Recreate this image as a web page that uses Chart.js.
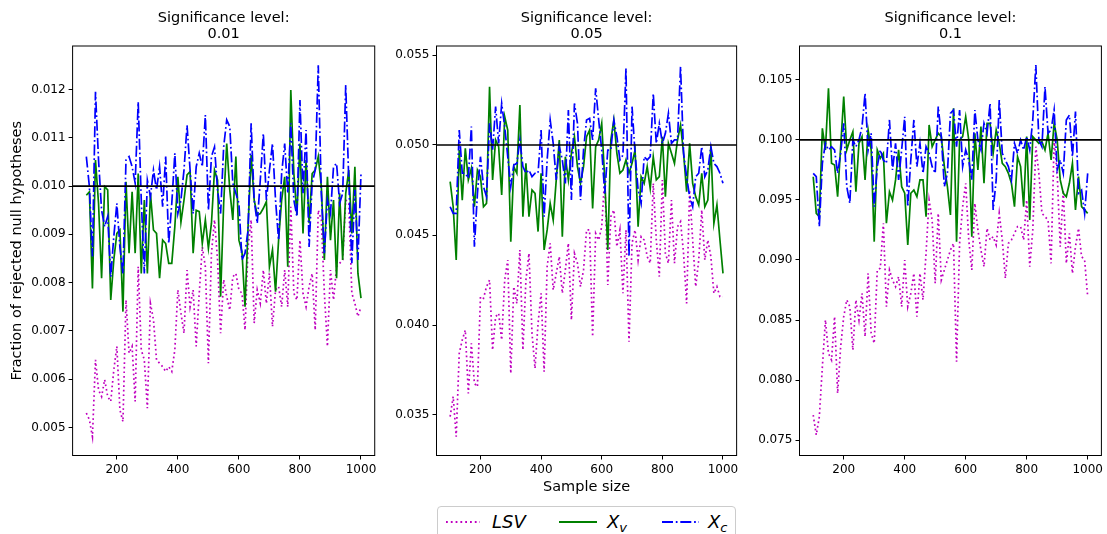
<!DOCTYPE html>
<html>
<head>
<meta charset="utf-8">
<script src="https://cdn.jsdelivr.net/npm/chart.js@4.4.0/dist/chart.umd.min.js"></script>
<style>
  body { margin: 0; background: #fff; }
  #wrap { position: relative; width: 1107px; height: 534px; overflow: hidden; font-family: 'DejaVu Sans', sans-serif; }
  canvas { position: absolute; top: 0; }
  #legend { position: absolute; left: 437px; top: 506px; width: 299px; height: 40px; box-sizing: border-box;
            border: 1px solid #cccccc; border-radius: 4px; background: #fff; }
  #legend svg { position: absolute; top: 10px; }
  #legend .lbl { position: absolute; top: 4px; line-height: 22px; font-size: 18px; font-style: italic; color: #000; white-space: nowrap; }
  #legend .lbl span { font-size: 13px; position: relative; top: 3.5px; }
</style>
</head>
<body>
<div id="wrap">
  <canvas id="c1" width="380" height="534" style="left:0px"></canvas>
  <canvas id="c2" width="352" height="534" style="left:390px"></canvas>
  <canvas id="c3" width="355" height="534" style="left:752px"></canvas>
  <div id="legend">
    <svg style="left:7px" width="36" height="10"><line x1="1" y1="5" x2="35" y2="5" stroke="#bf00bf" stroke-width="1.8" stroke-dasharray="1.8,3"/></svg>
    <div class="lbl" style="left:54px">LSV</div>
    <svg style="left:121px" width="38" height="10"><line x1="0" y1="5" x2="38" y2="5" stroke="#008000" stroke-width="1.8"/></svg>
    <div class="lbl" style="left:169px">X<span>v</span></div>
    <svg style="left:224px" width="37" height="10"><line x1="0" y1="5" x2="37" y2="5" stroke="#0000ff" stroke-width="1.8" stroke-dasharray="11,2.8,1.7,2.8"/></svg>
    <div class="lbl" style="left:270px">X<span>c</span></div>
  </div>
</div>
<script>
// sample sizes (x values), step 10
const sampleSizes = [100, 110, 120, 130, 140, 150, 160, 170, 180, 190,
  200, 210, 220, 230, 240, 250, 260, 270, 280, 290,
  300, 310, 320, 330, 340, 350, 360, 370, 380, 390,
  400, 410, 420, 430, 440, 450, 460, 470, 480, 490,
  500, 510, 520, 530, 540, 550, 560, 570, 580, 590,
  600, 610, 620, 630, 640, 650, 660, 670, 680, 690,
  700, 710, 720, 730, 740, 750, 760, 770, 780, 790,
  800, 810, 820, 830, 840, 850, 860, 870, 880, 890,
  900, 910, 920, 930, 940, 950, 960, 970, 980, 990, 1000];

const alphas = [0.01, 0.05, 0.1];
const xTicks = [200, 400, 600, 800, 1000];
const yTicks01 = [0.005, 0.006, 0.007, 0.008, 0.009, 0.010, 0.011, 0.012];
const yTicks05 = [0.035, 0.040, 0.045, 0.050, 0.055];
const yTicks10 = [0.075, 0.080, 0.085, 0.090, 0.095, 0.100, 0.105];

// significance level 0.01
const lsv01 = [0.0053, 0.00516, 0.00481, 0.0064, 0.00578, 0.00564, 0.00599, 0.00564, 0.00554, 0.00619,
  0.00668, 0.00537, 0.00512, 0.00764, 0.00654, 0.00668, 0.00554, 0.00833, 0.00661, 0.0064,
  0.0054, 0.00757, 0.00723, 0.0064, 0.00633, 0.00626, 0.00616, 0.00626, 0.00616, 0.00661,
  0.00785, 0.00737, 0.00695, 0.00826, 0.0075, 0.00785, 0.00668, 0.00778, 0.00874, 0.00833,
  0.00633, 0.00861, 0.0093, 0.00847, 0.00695, 0.00806, 0.00771, 0.00743, 0.00812, 0.00819,
  0.00785, 0.00778, 0.00702, 0.00874, 0.0093, 0.00716, 0.00785, 0.00757, 0.00826, 0.00757,
  0.00819, 0.00709, 0.00785, 0.00792, 0.0075, 0.00826, 0.0075, 0.00957, 0.00778, 0.00764,
  0.00888, 0.00778, 0.0075, 0.00792, 0.00819, 0.00702, 0.0095, 0.0093, 0.00778, 0.00668,
  0.00826, 0.00764, 0.00833, 0.0084, 0.00847, 0.00971, 0.00964, 0.00778, 0.00757, 0.0073, 0.0075];
const xv01 = [0.00981, 0.00988, 0.00788, 0.01054, 0.00964, 0.00809, 0.00999, 0.00992, 0.00764, 0.00847,
  0.00902, 0.00909, 0.0074, 0.01009, 0.00861, 0.00988, 0.00861, 0.01026, 0.00819, 0.00971,
  0.00819, 0.00985, 0.00909, 0.00902, 0.00809, 0.00888, 0.00881, 0.0084, 0.0084, 0.00916,
  0.01019, 0.00925, 0.00971, 0.01023, 0.0103, 0.00861, 0.0095, 0.00947, 0.00881, 0.0093,
  0.00871, 0.00923, 0.01033, 0.01012, 0.00771, 0.00964, 0.01088, 0.00992, 0.0093, 0.01061,
  0.00888, 0.00864, 0.0075, 0.00916, 0.01064, 0.00971, 0.0094, 0.00943, 0.00954, 0.00968,
  0.00833, 0.00868, 0.00781, 0.00888, 0.00971, 0.01019, 0.00833, 0.01199, 0.01026, 0.0094,
  0.01088, 0.00902, 0.01054, 0.00923, 0.01026, 0.01033, 0.01061, 0.00999, 0.00847, 0.01019,
  0.00888, 0.00971, 0.00809, 0.00985, 0.00847, 0.00985, 0.01033, 0.00902, 0.0104, 0.00819, 0.00768];
const xc01 = [0.01061, 0.00999, 0.00854, 0.01195, 0.01054, 0.0095, 0.00916, 0.00937, 0.00812, 0.00895,
  0.00964, 0.00874, 0.00819, 0.01054, 0.01061, 0.0104, 0.01006, 0.01174, 0.00971, 0.00819,
  0.01012, 0.00978, 0.01033, 0.00992, 0.0104, 0.00957, 0.01061, 0.00881, 0.00964, 0.01068,
  0.00943, 0.00971, 0.01033, 0.01126, 0.01033, 0.00943, 0.0104, 0.01068, 0.0104, 0.01147,
  0.0095, 0.01061, 0.01081, 0.00992, 0.00943, 0.01081, 0.01137, 0.01123, 0.01006, 0.00985,
  0.00964, 0.00847, 0.00861, 0.00909, 0.0113, 0.00971, 0.00923, 0.01012, 0.01109, 0.00971,
  0.01033, 0.01088, 0.00971, 0.00888, 0.01026, 0.01088, 0.00985, 0.0113, 0.00971, 0.00937,
  0.01178, 0.00985, 0.01116, 0.00874, 0.01006, 0.01033, 0.0125, 0.00985, 0.00861, 0.00971,
  0.00943, 0.0104, 0.01047, 0.00964, 0.00985, 0.01209, 0.01012, 0.0084, 0.00992, 0.00847, 0.01026];

// significance level 0.05
const lsv05 = [0.03491, 0.03602, 0.0338, 0.03843, 0.03917, 0.03972, 0.0362, 0.03898, 0.03676, 0.03657,
  0.04157, 0.04148, 0.04213, 0.0425, 0.03861, 0.04046, 0.04065, 0.03917, 0.0425, 0.04361,
  0.03731, 0.04213, 0.0412, 0.04417, 0.03861, 0.0425, 0.04398, 0.03954, 0.03759, 0.04009,
  0.04176, 0.03741, 0.04324, 0.04454, 0.04194, 0.04287, 0.0438, 0.04176, 0.04306, 0.04454,
  0.04028, 0.04398, 0.04343, 0.04213, 0.04306, 0.04528, 0.04528, 0.03935, 0.04509, 0.04472,
  0.04546, 0.04824, 0.04222, 0.04602, 0.04639, 0.04435, 0.04528, 0.04176, 0.04528, 0.03907,
  0.04454, 0.04528, 0.04361, 0.04491, 0.04472, 0.0438, 0.04343, 0.04787, 0.04472, 0.04269,
  0.04806, 0.04398, 0.04343, 0.04694, 0.04343, 0.04546, 0.04574, 0.04398, 0.0412, 0.0475,
  0.04472, 0.04213, 0.04361, 0.04639, 0.04361, 0.04472, 0.0438, 0.04176, 0.04213, 0.04157, 0.04157];
const xv05 = [0.04796, 0.04657, 0.04361, 0.04972, 0.04694, 0.04981, 0.04806, 0.0487, 0.04657, 0.04861,
  0.04824, 0.04657, 0.04676, 0.05324, 0.04806, 0.05028, 0.04991, 0.04722, 0.05157, 0.05083,
  0.04463, 0.0488, 0.04843, 0.05222, 0.04602, 0.04898, 0.04602, 0.0475, 0.04731, 0.04519,
  0.04843, 0.04417, 0.04528, 0.04676, 0.04583, 0.04806, 0.05028, 0.04491, 0.04935, 0.04806,
  0.04954, 0.05046, 0.0488, 0.04787, 0.0488, 0.05046, 0.05083, 0.04648, 0.04991, 0.05028,
  0.0512, 0.04806, 0.04417, 0.05028, 0.05139, 0.04954, 0.04843, 0.04861, 0.04917, 0.04843,
  0.04898, 0.04972, 0.04546, 0.04824, 0.04787, 0.0488, 0.04759, 0.04935, 0.04806, 0.04824,
  0.05046, 0.04713, 0.05009, 0.04954, 0.04898, 0.05028, 0.05111, 0.04954, 0.04741, 0.05009,
  0.04787, 0.04713, 0.04667, 0.04843, 0.04657, 0.04694, 0.04991, 0.04565, 0.04667, 0.04472, 0.04287];
const xc05 = [0.04657, 0.0462, 0.0462, 0.05083, 0.04843, 0.04843, 0.04815, 0.05102, 0.04435, 0.04731,
  0.04935, 0.04769, 0.04713, 0.0512, 0.04972, 0.05213, 0.05009, 0.05231, 0.05102, 0.04935,
  0.04769, 0.04889, 0.04898, 0.05028, 0.0488, 0.04843, 0.04861, 0.04824, 0.04843, 0.04843,
  0.05083, 0.04602, 0.04917, 0.05139, 0.05009, 0.04806, 0.04991, 0.04917, 0.04787, 0.05194,
  0.04694, 0.05231, 0.0512, 0.04694, 0.04972, 0.05139, 0.05148, 0.05028, 0.05315, 0.05139,
  0.04972, 0.04731, 0.04972, 0.04972, 0.05139, 0.05046, 0.04917, 0.04944, 0.05426, 0.0438,
  0.05213, 0.04954, 0.0475, 0.04676, 0.04935, 0.04917, 0.04935, 0.05287, 0.05009, 0.0512,
  0.05009, 0.05065, 0.05176, 0.05009, 0.05028, 0.05028, 0.05435, 0.04954, 0.04824, 0.04713,
  0.04657, 0.04824, 0.04843, 0.04991, 0.04824, 0.04861, 0.04991, 0.04898, 0.0488, 0.04843, 0.04787];

// significance level 0.1
const lsv10 = [0.07708, 0.07542, 0.07694, 0.08111, 0.085, 0.08222, 0.08167, 0.08528, 0.07889, 0.08278,
  0.08528, 0.08667, 0.08611, 0.0825, 0.08667, 0.085, 0.08722, 0.08361, 0.08889, 0.08389,
  0.08306, 0.08917, 0.08931, 0.09306, 0.08611, 0.08917, 0.08833, 0.08778, 0.08861, 0.08611,
  0.09, 0.08611, 0.08722, 0.08889, 0.08528, 0.08889, 0.08667, 0.09056, 0.095, 0.09333,
  0.08806, 0.09389, 0.08833, 0.08917, 0.09, 0.09083, 0.09139, 0.08153, 0.09139, 0.09444,
  0.09639, 0.09167, 0.08917, 0.09472, 0.0925, 0.09083, 0.08944, 0.09264, 0.09167, 0.09194,
  0.09125, 0.09389, 0.09167, 0.08847, 0.09139, 0.09167, 0.09222, 0.09278, 0.09278, 0.09167,
  0.095, 0.08944, 0.0925, 0.09944, 0.09722, 0.09389, 0.09361, 0.09333, 0.08972, 0.1,
  0.09722, 0.09111, 0.09583, 0.08972, 0.09222, 0.08889, 0.09111, 0.09264, 0.09028, 0.09, 0.08694];
const xv10 = [0.09694, 0.09389, 0.09361, 0.10097, 0.09917, 0.10431, 0.09806, 0.09792, 0.09528, 0.09944,
  0.10361, 0.09917, 0.1, 0.10069, 0.09569, 0.09972, 0.10028, 0.09667, 0.10083, 0.09917,
  0.09153, 0.09917, 0.09847, 0.09889, 0.09306, 0.09569, 0.095, 0.09667, 0.09917, 0.09611,
  0.09556, 0.09125, 0.09556, 0.09583, 0.09528, 0.09667, 0.09667, 0.09361, 0.10125, 0.09944,
  0.1, 0.10056, 0.10028, 0.09778, 0.09611, 0.09375, 0.10264, 0.09153, 0.1, 0.10028,
  0.10194, 0.1, 0.09194, 0.10056, 0.0975, 0.10111, 0.09639, 0.10139, 0.10139, 0.09889,
  0.10083, 0.09972, 0.09806, 0.09778, 0.09722, 0.09639, 0.09444, 0.09861, 0.09778, 0.09444,
  0.10028, 0.09333, 0.10028, 0.1, 0.09972, 0.09986, 0.09917, 0.10056, 0.09833, 0.10139,
  0.1, 0.09667, 0.09556, 0.09528, 0.09639, 0.09806, 0.09417, 0.09694, 0.09444, 0.09417, 0.09389];
const xc10 = [0.09722, 0.09694, 0.09278, 0.09806, 0.09972, 0.09917, 0.09944, 0.09917, 0.09722, 0.09889,
  0.10139, 0.09611, 0.09472, 0.1, 0.09944, 0.1, 0.10111, 0.10389, 0.09917, 0.10056,
  0.09444, 0.09778, 0.09917, 0.09833, 0.09806, 0.10167, 0.0975, 0.09972, 0.09667, 0.09917,
  0.10194, 0.09444, 0.09833, 0.10167, 0.09778, 0.09972, 0.09722, 0.09944, 0.09889, 0.09778,
  0.09722, 0.10278, 0.10028, 0.09611, 0.09722, 0.10222, 0.1025, 0.09944, 0.1025, 0.09778,
  0.09917, 0.09833, 0.09667, 0.1025, 0.1, 0.09917, 0.10139, 0.10056, 0.10306, 0.09417,
  0.09667, 0.10333, 0.09889, 0.09833, 0.09778, 0.09667, 0.09972, 0.09889, 0.1, 0.09917,
  0.10028, 0.09917, 0.10167, 0.10625, 0.1, 0.09944, 0.10444, 0.10056, 0.10083, 0.1025,
  0.0975, 0.09833, 0.09722, 0.10167, 0.10208, 0.09861, 0.10236, 0.09556, 0.09583, 0.09389, 0.09722];

const FONT = 'DejaVu Sans';

// draws the alpha reference line and the box around the plot
const framePlugin = {
  id: 'frame',
  afterDatasetsDraw(chart, args, opts) {
    const { ctx, chartArea: a } = chart;
    const py = chart.scales.y.getPixelForValue(opts.alpha);
    ctx.save();
    ctx.strokeStyle = '#000';
    ctx.lineWidth = 1.7;
    ctx.beginPath();
    ctx.moveTo(a.left, py);
    ctx.lineTo(a.right, py);
    ctx.stroke();
    ctx.lineWidth = 1;
    ctx.strokeRect(a.left, a.top, a.right - a.left, a.bottom - a.top);
    ctx.restore();
  }
};

function points(vals) {
  return vals.map((v, i) => ({ x: sampleSizes[i], y: v }));
}

const panels = [
  { id: 'c1', axisW: 72.6, padR: 4.5, yMin: 0.00442, yMax: 0.0129, alpha: alphas[0],
    lsv: lsv01, xv: xv01, xc: xc01, yTicks: yTicks01, yTitle: true, xTitle: false },
  { id: 'c2', axisW: 46.5, padR: 3.6, yMin: 0.03275, yMax: 0.0555, alpha: alphas[1],
    lsv: lsv05, xv: xv05, xc: xc05, yTicks: yTicks05, yTitle: false, xTitle: true },
  { id: 'c3', axisW: 47.5, padR: 5.6, yMin: 0.07371, yMax: 0.10783, alpha: alphas[2],
    lsv: lsv10, xv: xv10, xc: xc10, yTicks: yTicks10, yTitle: false, xTitle: false },
];

panels.forEach(p => {
  new Chart(document.getElementById(p.id), {
    type: 'line',
    data: {
      datasets: [
        { label: 'Xc', data: points(p.xc), borderColor: '#0000ff', borderWidth: 1.7,
          borderDash: [11, 2.8, 1.7, 2.8], pointRadius: 0, order: 1 },
        { label: 'Xv', data: points(p.xv), borderColor: '#008000', borderWidth: 1.7,
          pointRadius: 0, order: 2 },
        { label: 'LSV', data: points(p.lsv), borderColor: '#bf00bf', borderWidth: 1.7,
          borderDash: [1.7, 2.9], pointRadius: 0, order: 3 },
      ]
    },
    options: {
      responsive: false,
      animation: false,
      devicePixelRatio: 1,
      layout: { padding: { left: 0, right: p.padR, top: 0, bottom: 0 } },
      plugins: {
        legend: { display: false },
        tooltip: { enabled: false },
        title: {
          display: true,
          fullSize: false,
          text: ['Significance level:', String(p.alpha)],
          color: '#000',
          font: { family: FONT, size: 14.5, weight: 'normal', lineHeight: 1.1 },
          padding: { top: 10.5, bottom: 3.6 }
        },
        frame: { alpha: p.alpha }
      },
      scales: {
        x: {
          type: 'linear',
          min: 55,
          max: 1045,
          afterBuildTicks: s => { s.ticks = xTicks.map(v => ({ value: v })); },
          afterFit: s => { s.height = 78.5; },
          grid: { drawOnChartArea: false, tickLength: 4, color: '#000' },
          border: { display: false },
          ticks: { color: '#000', font: { family: FONT, size: 12 }, padding: 3.5,
                   maxRotation: 0, autoSkip: false, callback: v => String(v) },
          title: { display: p.xTitle, text: 'Sample size', color: '#000',
                   font: { family: FONT, size: 14.5 }, padding: { top: 0, bottom: 37.8 } }
        },
        y: {
          min: p.yMin,
          max: p.yMax,
          afterBuildTicks: s => { s.ticks = p.yTicks.map(v => ({ value: v })); },
          afterFit: s => { s.width = p.axisW; },
          grid: { drawOnChartArea: false, tickLength: 4, color: '#000' },
          border: { display: false },
          ticks: { color: '#000', font: { family: FONT, size: 12 }, padding: 3,
                   autoSkip: false, callback: v => v.toFixed(3) },
          title: { display: p.yTitle, text: 'Fraction of rejected null hypotheses', color: '#000',
                   font: { family: FONT, size: 14.5 }, padding: { top: 8.3, bottom: 0 } }
        }
      }
    },
    plugins: [framePlugin]
  });
});
</script>
</body>
</html>
